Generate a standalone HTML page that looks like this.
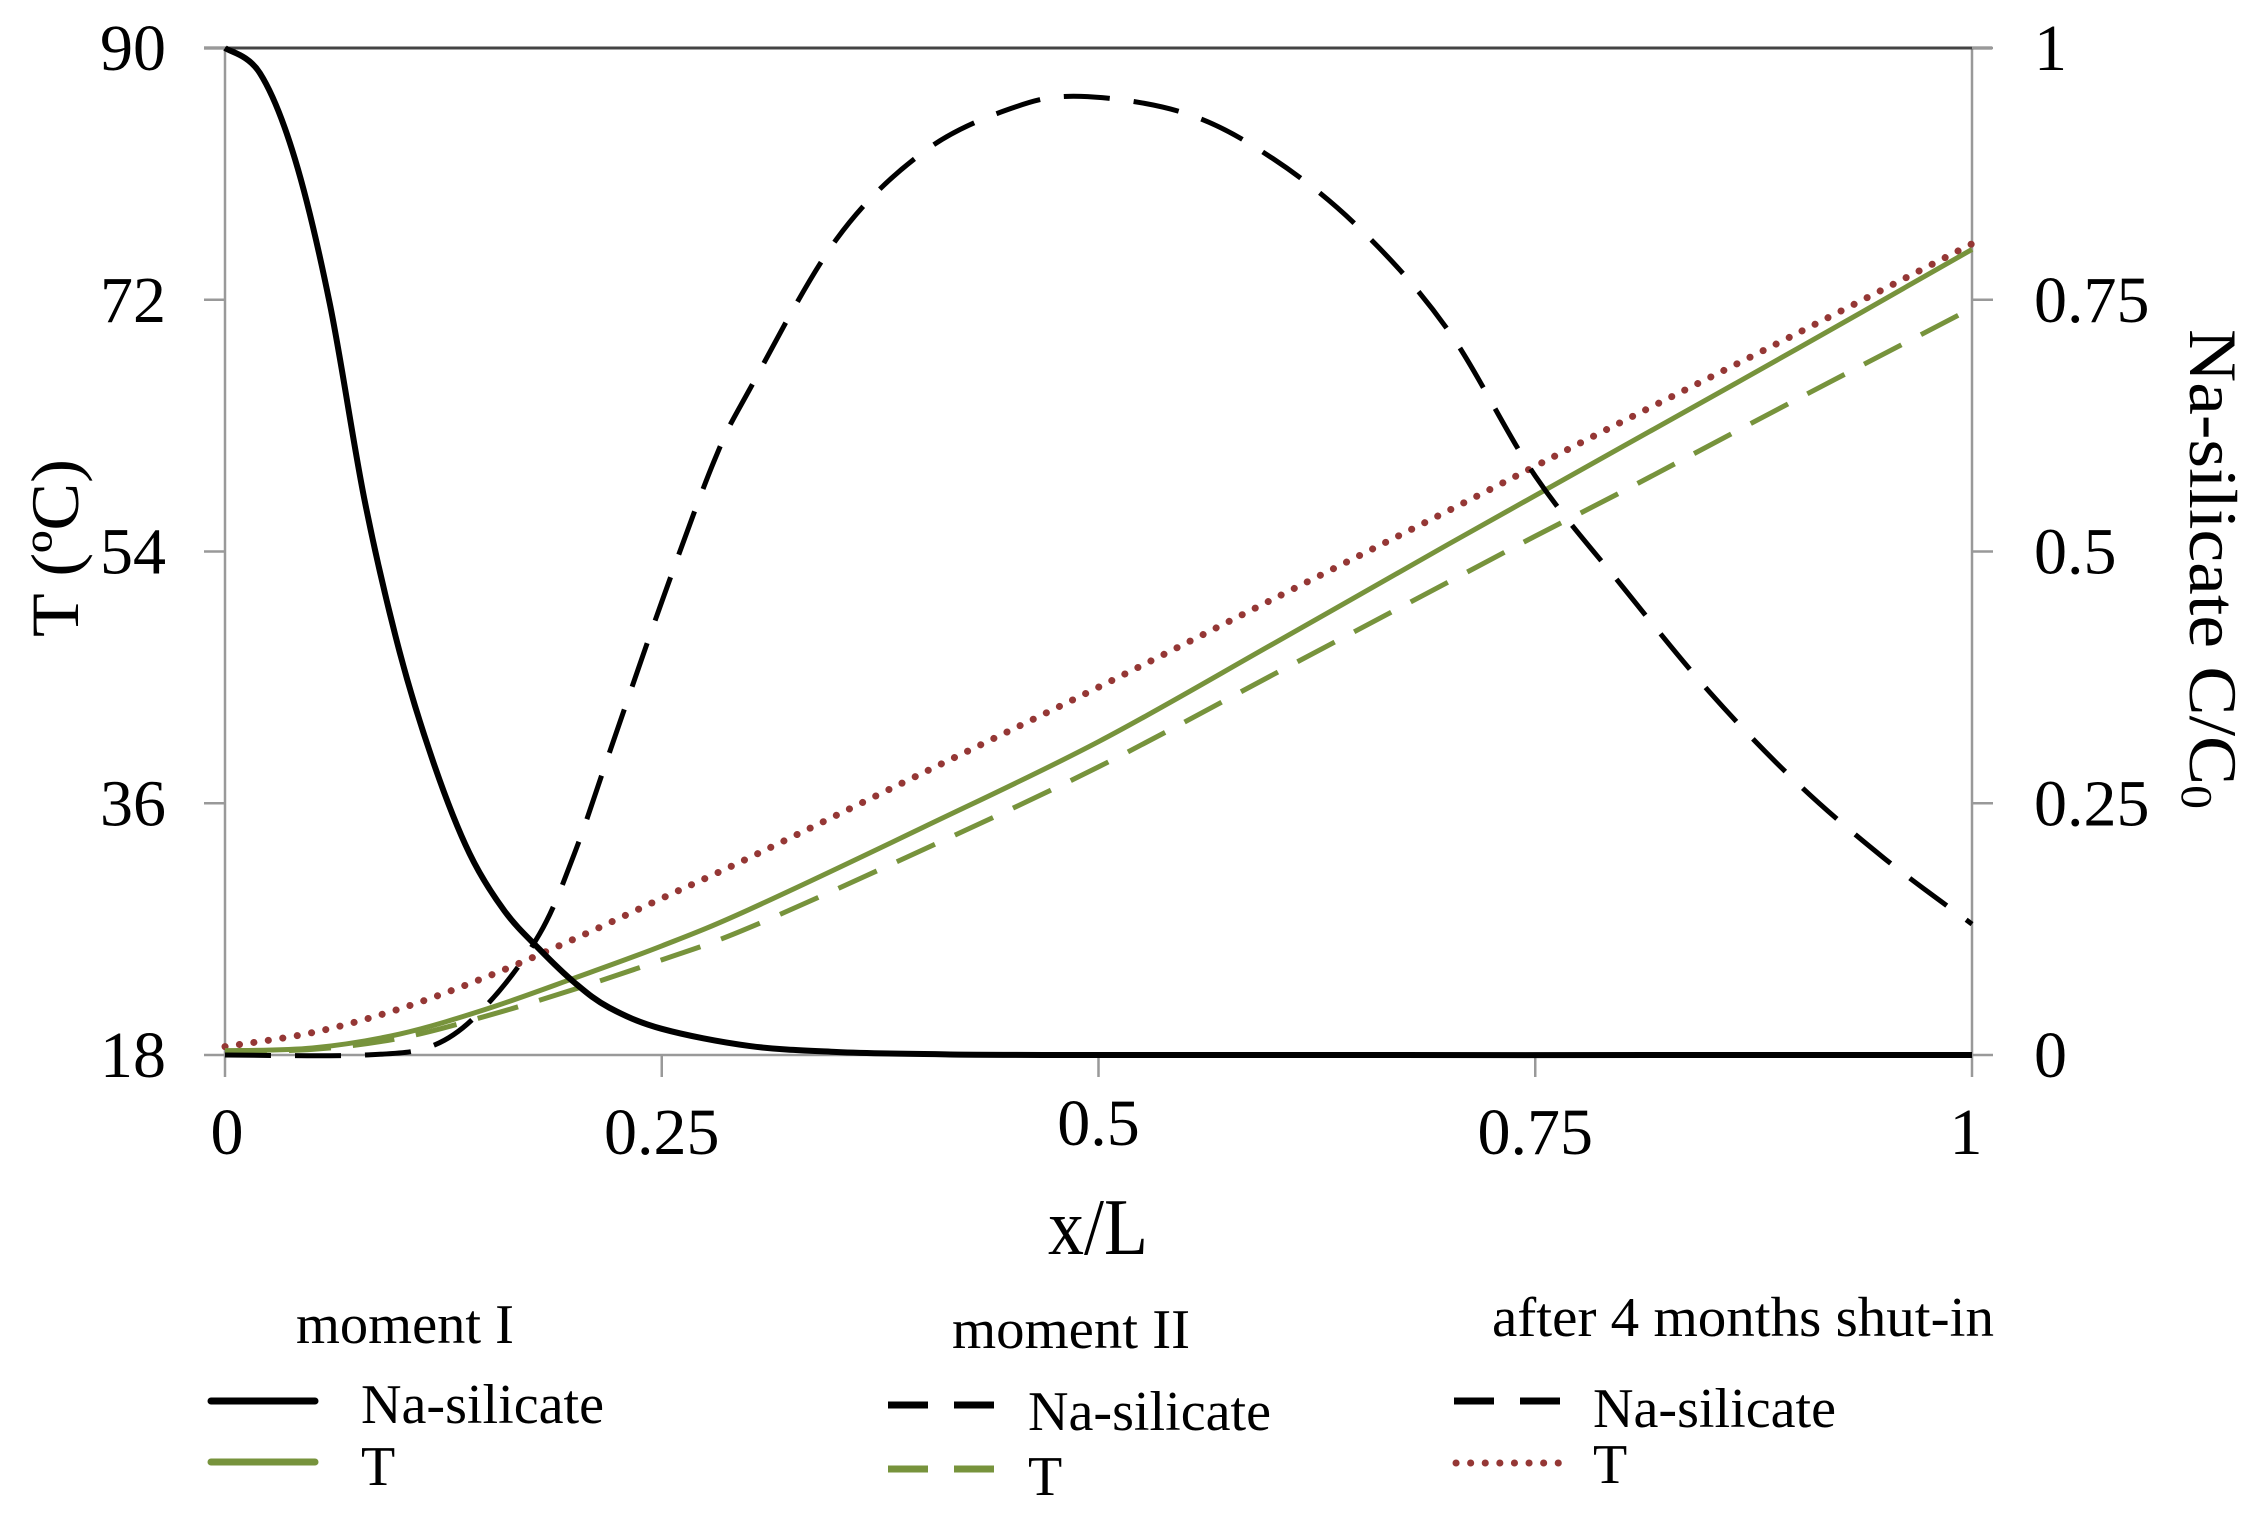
<!DOCTYPE html>
<html><head><meta charset="utf-8"><style>
html,body{margin:0;padding:0;background:#fff;}
svg{display:block;font-family:"Liberation Serif",serif;}
</style></head><body>
<svg id="chart" width="2265" height="1522" viewBox="0 0 2265 1522" xmlns="http://www.w3.org/2000/svg">
<g id="axes"></g>
<g id="series"></g>
<text x="1098" y="1254" font-size="80" text-anchor="middle" textLength="100" lengthAdjust="spacingAndGlyphs">x/L</text>
<text transform="translate(78,548) rotate(-90)" font-size="68" text-anchor="middle" textLength="178" lengthAdjust="spacingAndGlyphs">T (ºC)</text>
<text transform="translate(2190,569) rotate(90)" font-size="68" text-anchor="middle" textLength="480" lengthAdjust="spacingAndGlyphs">Na-silicate C/C<tspan font-size="44" dy="8">0</tspan></text>
<g id="legend">
<text x="296" y="1343" font-size="56" textLength="218" lengthAdjust="spacingAndGlyphs">moment I</text>
<line x1="211" y1="1401" x2="315" y2="1401" stroke="#000" stroke-width="7" stroke-linecap="round"/>
<text x="361" y="1423" font-size="56" textLength="243" lengthAdjust="spacingAndGlyphs">Na-silicate</text>
<line x1="211" y1="1462" x2="315" y2="1462" stroke="#77933c" stroke-width="7" stroke-linecap="round"/>
<text x="361" y="1485" font-size="56">T</text>
<text x="952" y="1348" font-size="56" textLength="238" lengthAdjust="spacingAndGlyphs">moment II</text>
<line x1="888" y1="1405" x2="997" y2="1405" stroke="#000" stroke-width="7" stroke-dasharray="40 26"/>
<text x="1028" y="1430" font-size="56" textLength="243" lengthAdjust="spacingAndGlyphs">Na-silicate</text>
<line x1="888" y1="1469" x2="997" y2="1469" stroke="#77933c" stroke-width="7" stroke-dasharray="40 26"/>
<text x="1028" y="1495" font-size="56">T</text>
<text x="1492" y="1336" font-size="56" textLength="502" lengthAdjust="spacingAndGlyphs">after 4 months shut-in</text>
<line x1="1454" y1="1401" x2="1560" y2="1401" stroke="#000" stroke-width="7" stroke-dasharray="40 26"/>
<text x="1593" y="1427" font-size="56" textLength="243" lengthAdjust="spacingAndGlyphs">Na-silicate</text>
<line x1="1456" y1="1463" x2="1560" y2="1463" stroke="#953735" stroke-width="7" stroke-dasharray="0.1 14.5" stroke-linecap="round"/>
<text x="1593" y="1483" font-size="56">T</text>
</g>
</svg>
<script>
const xTicks=[0,0.25,0.5,0.75,1];
const xTickLabels=["0","0.25","0.5","0.75","1"];
const yLeftTicks=[18,36,54,72,90];
const yRightTicks=[0,0.25,0.5,0.75,1];
const yRightTickLabels=["0","0.25","0.5","0.75","1"];
const m1NaX=[0,0.02,0.04,0.06,0.08,0.1,0.12,0.14,0.16,0.18,0.2,0.22,0.25,0.3,0.35,0.4,0.5,1];
const m1NaC=[1,0.975,0.89,0.746,0.55,0.4,0.287,0.2,0.143,0.105,0.072,0.047,0.026,0.009,0.003,0.001,0,0];
const m2NaX=[0,0.08,0.12,0.15,0.18,0.2,0.22,0.25,0.28,0.3,0.35,0.4,0.45,0.49,0.55,0.6,0.65,0.7,0.75,0.8,0.85,0.9,0.95,1];
const m2NaC=[0,0,0.01,0.05,0.12,0.2,0.3,0.45,0.59,0.66,0.81,0.897,0.94,0.952,0.935,0.89,0.82,0.72,0.575,0.465,0.36,0.27,0.195,0.13];
const tX=[0,0.05,0.1,0.15,0.2,0.25,0.3,0.4,0.5,0.6,0.7,0.75,0.8,0.9,1];
const m1T=[18.3,18.5,19.5,21.3,23.5,25.8,28.4,34.3,40.4,47.4,54.5,58,61.5,68.5,75.6];
const m2T=[18.3,18.4,19.2,20.8,22.7,24.8,27.1,32.7,38.6,45.2,51.8,55.1,58.3,64.9,71.4];
const a4T=[18.6,19.6,21.3,23.6,26.3,29.2,32.1,38.2,44.3,50.6,56.9,60.1,63.3,69.6,76];

const PX0=225,PX1=1972,PY0=1055,PY1=48;
const X=v=>PX0+v*(PX1-PX0);
const YL=t=>PY0-(t-18)/72*(PY0-PY1);
const YR=c=>PY0-c*(PY0-PY1);
const NS="http://www.w3.org/2000/svg";
function mk(tag,attrs,parent){const e=document.createElementNS(NS,tag);for(const k in attrs)e.setAttribute(k,attrs[k]);parent.appendChild(e);return e;}
const axes=document.getElementById('axes');
let e;
e=mk('line',{x1:PX0,y1:PY1,x2:PX0,y2:PY0,stroke:'#999','stroke-width':2.5},axes);


e=mk('line',{x1:PX1,y1:PY1,x2:PX1,y2:PY0,stroke:'#999','stroke-width':2.5},axes);


e=mk('line',{x1:PX0,y1:PY0,x2:PX1,y2:PY0,stroke:'#999','stroke-width':2.5},axes);


e=mk('line',{x1:204,y1:PY1,x2:PX1+20,y2:PY1,stroke:'#444','stroke-width':3},axes);


xTicks.forEach((v,i)=>{
  e=mk('line',{x1:X(v),y1:PY0,x2:X(v),y2:PY0+22,stroke:'#999','stroke-width':2.5},axes);
  
  
  e=mk('text',{x:X(v)+(i==0?2:(i==4?-6:0)),y:i==2?1145:1154,'font-size':66,'text-anchor':'middle'},axes);
  e.textContent=xTickLabels[i];
  
  
});
yLeftTicks.forEach(v=>{
  e=mk('line',{x1:204,y1:YL(v),x2:PX0,y2:YL(v),stroke:'#999','stroke-width':2.5},axes);
  
  
  e=mk('text',{x:166,y:YL(v)+22,'font-size':66,'text-anchor':'end'},axes);
  e.textContent=String(v);
  
  
});
yRightTicks.forEach((v,i)=>{
  e=mk('line',{x1:PX1,y1:YR(v),x2:PX1+21,y2:YR(v),stroke:'#999','stroke-width':2.5},axes);
  
  
  e=mk('text',{x:2034,y:YR(v)+22,'font-size':66},axes);
  e.textContent=yRightTickLabels[i];
  
  
});
function pathD(xs,ys,fy){
  const p=xs.map((x,i)=>[X(x),fy(ys[i])]);
  let d='M'+p[0][0]+','+p[0][1];
  for(let i=0;i<p.length-1;i++){
    const p0=p[i-1]||p[i],p1=p[i],p2=p[i+1],p3=p[i+2]||p2;
    const c1=[p1[0]+(p2[0]-p0[0])/6,p1[1]+(p2[1]-p0[1])/6];
    const c2=[p2[0]-(p3[0]-p1[0])/6,p2[1]-(p3[1]-p1[1])/6];
    d+=' C'+c1[0]+','+c1[1]+' '+c2[0]+','+c2[1]+' '+p2[0]+','+p2[1];
  }
  return d;
}
const S=document.getElementById('series');
e=mk('path',{d:pathD(tX,a4T,YL),fill:'none',stroke:'#953735','stroke-width':7,'stroke-dasharray':'0.1 14.5','stroke-linecap':'round'},S);


e=mk('path',{d:pathD(tX,m2T,YL),fill:'none',stroke:'#77933c','stroke-width':5,'stroke-dasharray':'42 22'},S);


e=mk('path',{d:pathD(tX,m1T,YL),fill:'none',stroke:'#77933c','stroke-width':5},S);


e=mk('path',{d:pathD(m2NaX,m2NaC,YR),fill:'none',stroke:'#000','stroke-width':5,'stroke-dasharray':'46 24'},S);


e=mk('path',{d:pathD(m1NaX,m1NaC,YR),fill:'none',stroke:'#000','stroke-width':6},S);


</script>
</body></html>
